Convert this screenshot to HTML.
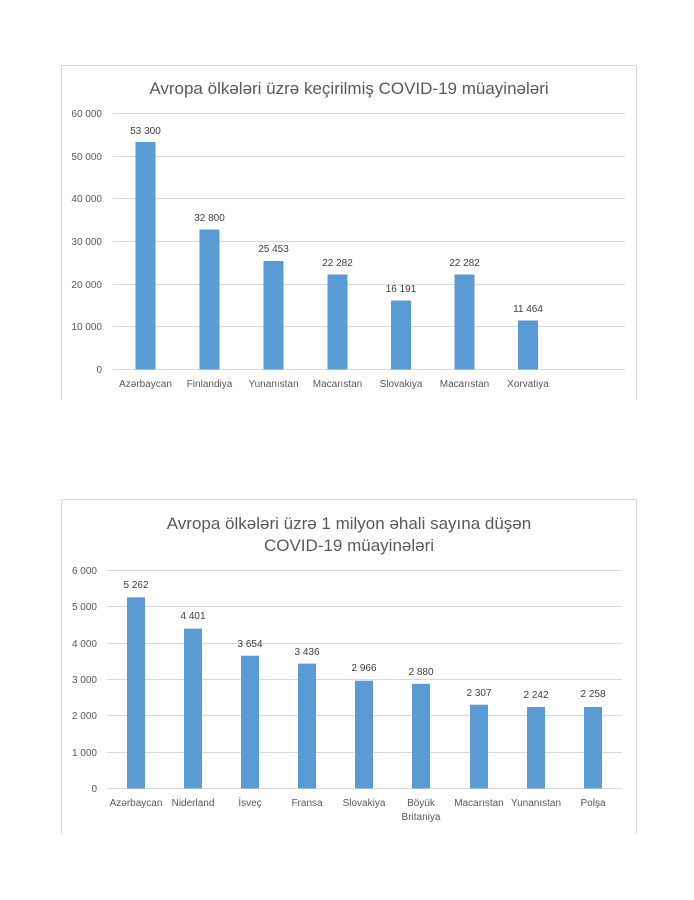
<!DOCTYPE html>
<html><head><meta charset="utf-8"><style>
html,body{margin:0;padding:0;background:#fff;}
svg{display:block;font-family:"Liberation Sans",sans-serif;}
</style></head><body>
<svg width="694" height="900" viewBox="0 0 694 900" xmlns="http://www.w3.org/2000/svg">
<rect width="694" height="900" fill="#fff"/>
<!-- Chart 1 frame -->
<path d="M61.5,400 V65.5 H636.5 V400" fill="none" stroke="#d9d9d9" stroke-width="1"/>
<text x="349" y="94" text-anchor="middle" font-size="17" fill="#595959">Avropa ölkələri üzrə keçirilmiş COVID-19 müayinələri</text>
<g stroke="#d9d9d9" stroke-width="1">
<line x1="113" x2="625" y1="113.5" y2="113.5"/>
<line x1="113" x2="625" y1="156.5" y2="156.5"/>
<line x1="113" x2="625" y1="198.5" y2="198.5"/>
<line x1="113" x2="625" y1="241.5" y2="241.5"/>
<line x1="113" x2="625" y1="284.5" y2="284.5"/>
<line x1="113" x2="625" y1="326.5" y2="326.5"/>
<line x1="113" x2="625" y1="369.5" y2="369.5"/>
</g>
<g font-size="10" fill="#595959" text-anchor="end">
<text x="102" y="117">60 000</text>
<text x="102" y="160">50 000</text>
<text x="102" y="202">40 000</text>
<text x="102" y="245">30 000</text>
<text x="102" y="288">20 000</text>
<text x="102" y="330">10 000</text>
<text x="102" y="373">0</text>
</g>
<g fill="#5b9bd5">
<rect x="135.5" y="142" width="20" height="227.5"/>
<rect x="199.5" y="229.5" width="20" height="140"/>
<rect x="263.5" y="261" width="20" height="108.5"/>
<rect x="327.5" y="274.5" width="20" height="95"/>
<rect x="391" y="300.5" width="20" height="69"/>
<rect x="454.5" y="274.5" width="20" height="95"/>
<rect x="518" y="320.5" width="20" height="49"/>
</g>
<g font-size="10" fill="#404040" text-anchor="middle">
<text x="145.5" y="134">53 300</text>
<text x="209.5" y="221">32 800</text>
<text x="273.5" y="252">25 453</text>
<text x="337.5" y="266">22 282</text>
<text x="401" y="292">16 191</text>
<text x="464.5" y="266">22 282</text>
<text x="528" y="312">11 464</text>
</g>
<g font-size="10" fill="#595959" text-anchor="middle">
<text x="145.5" y="387">Azərbaycan</text>
<text x="209.5" y="387">Finlandiya</text>
<text x="273.5" y="387">Yunanıstan</text>
<text x="337.5" y="387">Macarıstan</text>
<text x="401" y="387">Slovakiya</text>
<text x="464.5" y="387">Macarıstan</text>
<text x="528" y="387">Xorvatiya</text>
</g>

<!-- Chart 2 frame -->
<path d="M61.5,834 V499.5 H636.5 V834" fill="none" stroke="#d9d9d9" stroke-width="1"/>
<text x="349" y="529" text-anchor="middle" font-size="17" fill="#595959">Avropa ölkələri üzrə 1 milyon əhali sayına düşən</text>
<text x="349" y="551" text-anchor="middle" font-size="17" fill="#595959">COVID-19 müayinələri</text>
<g stroke="#d9d9d9" stroke-width="1">
<line x1="107" x2="622" y1="570.5" y2="570.5"/>
<line x1="107" x2="622" y1="606.5" y2="606.5"/>
<line x1="107" x2="622" y1="643.5" y2="643.5"/>
<line x1="107" x2="622" y1="679.5" y2="679.5"/>
<line x1="107" x2="622" y1="715.5" y2="715.5"/>
<line x1="107" x2="622" y1="752.5" y2="752.5"/>
<line x1="107" x2="622" y1="788.5" y2="788.5"/>
</g>
<g font-size="10" fill="#595959" text-anchor="end">
<text x="97" y="574">6 000</text>
<text x="97" y="610">5 000</text>
<text x="97" y="647">4 000</text>
<text x="97" y="683">3 000</text>
<text x="97" y="719">2 000</text>
<text x="97" y="756">1 000</text>
<text x="97" y="792">0</text>
</g>
<g fill="#5b9bd5">
<rect x="127" y="597.3" width="18" height="191.2"/>
<rect x="184" y="628.6" width="18" height="159.9"/>
<rect x="241" y="655.7" width="18" height="132.8"/>
<rect x="298" y="663.6" width="18" height="124.9"/>
<rect x="355" y="680.7" width="18" height="107.8"/>
<rect x="412" y="683.8" width="18" height="104.7"/>
<rect x="470" y="704.7" width="18" height="83.8"/>
<rect x="527" y="707" width="18" height="81.5"/>
<rect x="584" y="707" width="18" height="81.5"/>
</g>
<g font-size="10" fill="#404040" text-anchor="middle">
<text x="136" y="588">5 262</text>
<text x="193" y="619">4 401</text>
<text x="250" y="647">3 654</text>
<text x="307" y="655">3 436</text>
<text x="364" y="671">2 966</text>
<text x="421" y="675">2 880</text>
<text x="479" y="696">2 307</text>
<text x="536" y="698">2 242</text>
<text x="593" y="697">2 258</text>
</g>
<g font-size="10" fill="#595959" text-anchor="middle">
<text x="136" y="806">Azərbaycan</text>
<text x="193" y="806">Niderland</text>
<text x="250" y="806">İsveç</text>
<text x="307" y="806">Fransa</text>
<text x="364" y="806">Slovakiya</text>
<text x="421" y="806">Böyük</text>
<text x="421" y="820">Britaniya</text>
<text x="479" y="806">Macarıstan</text>
<text x="536" y="806">Yunanıstan</text>
<text x="593" y="806">Polşa</text>
</g>
</svg>
</body></html>
